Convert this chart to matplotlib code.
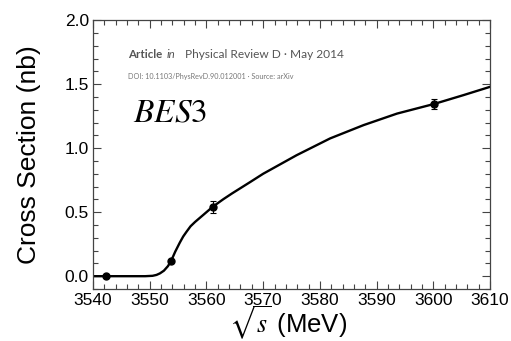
import matplotlib
matplotlib.use('Agg')
import matplotlib.pyplot as plt
from matplotlib.ticker import MultipleLocator

# measured points (sqrt(s) in MeV, cross section in nb)
pt_x = [3542.3, 3553.75, 3561.1, 3600.2]
pt_y = [0.0, 0.117, 0.542, 1.346]
pt_err = [0.0, 0.0, 0.045, 0.04]

# fit curve
fit_x = [3540.0, 3545.0, 3549.2, 3550.5, 3551.2, 3551.8, 3552.5, 3553.2, 3553.75,
         3554.5, 3555.3, 3555.9, 3556.5, 3557.2, 3558.0, 3559.45, 3561.1, 3563.0,
         3564.5, 3567.7, 3570.0, 3575.9, 3581.8, 3587.7, 3593.6, 3600.2, 3605.3,
         3610.0]
fit_y = [0.0, 0.0, 0.0, 0.003, 0.01, 0.022, 0.043, 0.078, 0.117,
         0.192, 0.262, 0.31, 0.348, 0.39, 0.424, 0.479, 0.542, 0.602,
         0.646, 0.735, 0.80, 0.945, 1.076, 1.18, 1.27, 1.346, 1.414,
         1.479]

plt.rcParams['mathtext.fontset'] = 'stix'
plt.rcParams['font.family'] = ['Liberation Sans', 'DejaVu Sans']

fig = plt.figure(figsize=(5.11, 3.41), dpi=100)
ax = fig.add_axes([0.182, 0.1525, 0.777, 0.7885])

ax.plot(fit_x, fit_y, color='black', lw=1.7, zorder=2)
ax.errorbar(pt_x, pt_y, yerr=pt_err, fmt='o', color='black', ms=5,
            elinewidth=0.8, capsize=2, capthick=0.8, zorder=3)

ax.set_xlim(3540, 3610)
ax.set_ylim(-0.1, 2.0)
ax.xaxis.set_major_locator(MultipleLocator(10))
ax.xaxis.set_minor_locator(MultipleLocator(2))
ax.yaxis.set_major_locator(MultipleLocator(0.5))
ax.yaxis.set_minor_locator(MultipleLocator(0.1))
ax.yaxis.set_major_formatter(plt.FormatStrFormatter('%.1f'))
ax.tick_params(which='both', direction='in', top=True, right=True,
               color='#444444', width=0.8, labelsize=12.5, pad=3)
ax.tick_params(which='major', length=6)
ax.tick_params(which='minor', length=3.5)
for s in ax.spines.values():
    s.set_color('#444444')
    s.set_linewidth(0.9)

ax.set_ylabel('Cross Section (nb)', fontsize=19, labelpad=17)
fig.text(0.563, 1 - 333 / 341, r'$\sqrt{s}$ (MeV)', fontsize=18.5,
         ha='center', va='baseline')

ax.text(0.10, 0.655, r'$BES3$', transform=ax.transAxes, fontsize=24,
        va='center', ha='left')

# source banner
fig.text(128 / 511, 1 - 55 / 341, 'Article', fontsize=8.3, fontweight='bold',
         color='#555555', family='Lato', va='center')
fig.text(167 / 511, 1 - 55 / 341, 'in', fontsize=8.3, style='italic',
         color='#555555', family='Lato', va='center')
fig.text(185 / 511, 1 - 55 / 341, 'Physical Review D \u00b7 May 2014', fontsize=8.6,
         color='#555555', family='Lato', va='center')
fig.text(128 / 511, 1 - 76 / 341, 'DOI: 10.1103/PhysRevD.90.012001 \u00b7 Source: arXiv',
         fontsize=5.2, color='#777777', family='Lato', va='center')

fig.savefig('out.png', dpi=100)
